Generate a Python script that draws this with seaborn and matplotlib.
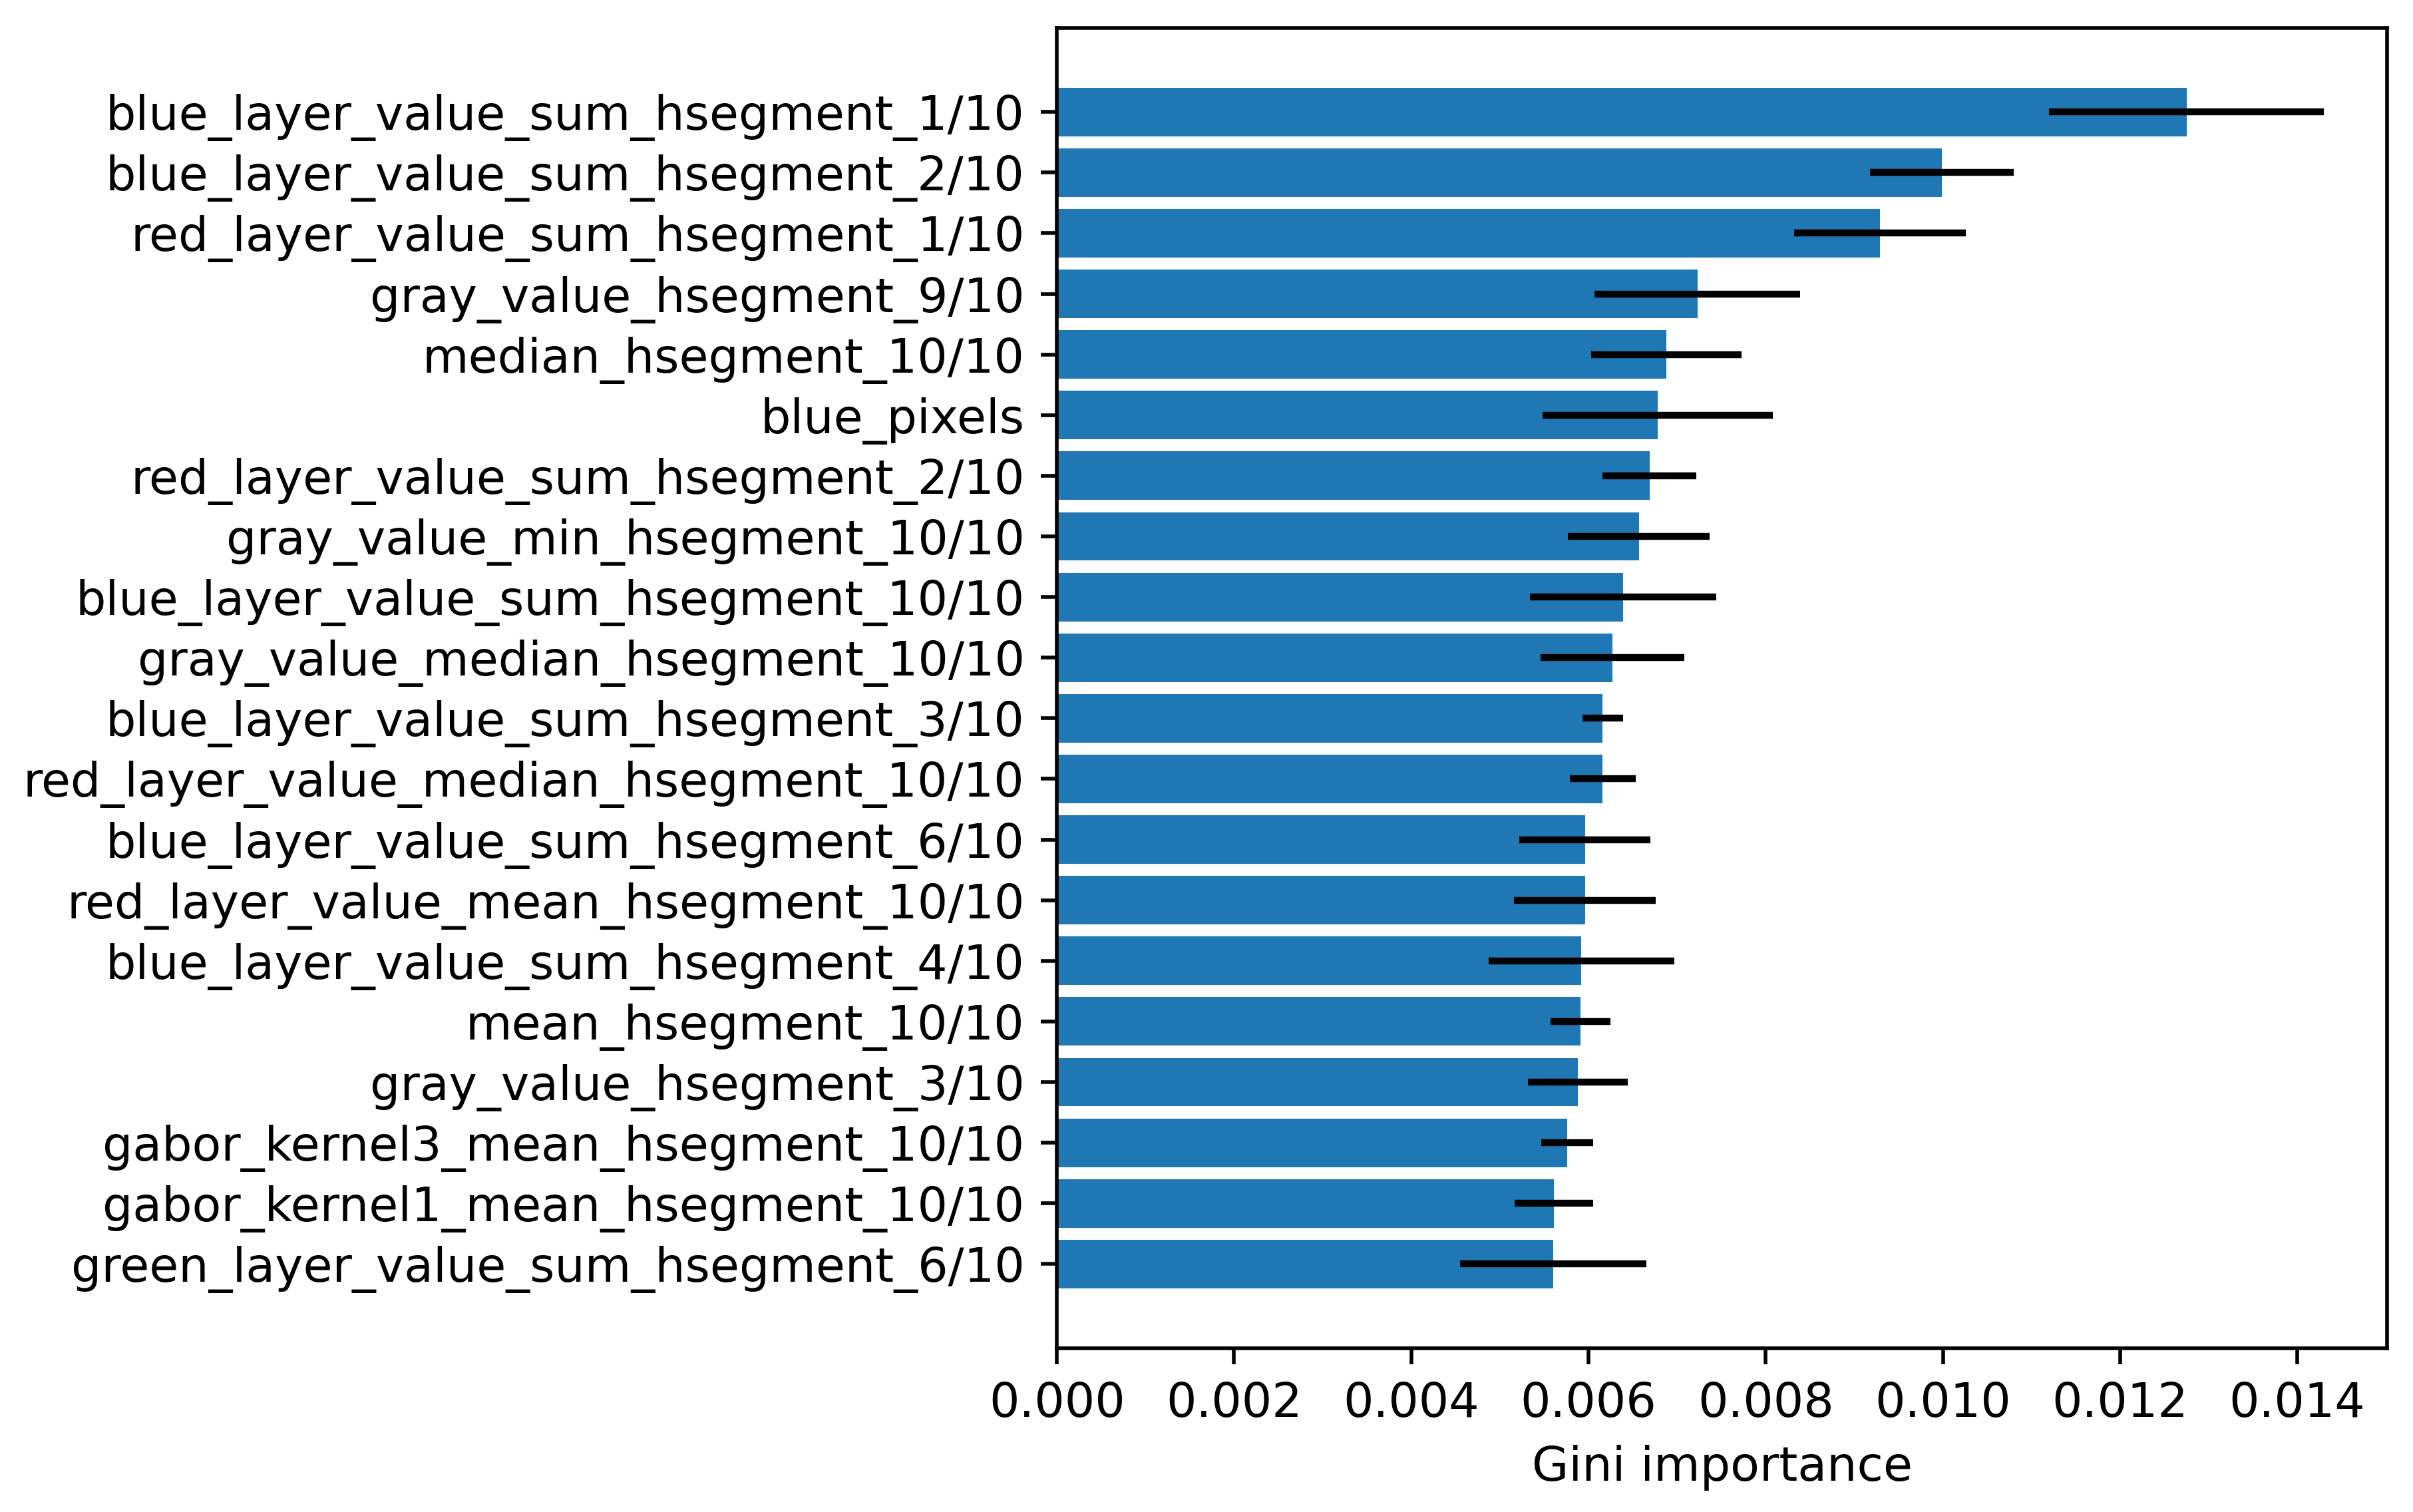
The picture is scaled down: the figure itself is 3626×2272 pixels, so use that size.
import matplotlib
matplotlib.use("Agg")
import matplotlib.pyplot as plt
import seaborn as sns
import numpy as np
import pandas as pd

features = [
    "blue_layer_value_sum_hsegment_1/10",
    "blue_layer_value_sum_hsegment_2/10",
    "red_layer_value_sum_hsegment_1/10",
    "gray_value_hsegment_9/10",
    "median_hsegment_10/10",
    "blue_pixels",
    "red_layer_value_sum_hsegment_2/10",
    "gray_value_min_hsegment_10/10",
    "blue_layer_value_sum_hsegment_10/10",
    "gray_value_median_hsegment_10/10",
    "blue_layer_value_sum_hsegment_3/10",
    "red_layer_value_median_hsegment_10/10",
    "blue_layer_value_sum_hsegment_6/10",
    "red_layer_value_mean_hsegment_10/10",
    "blue_layer_value_sum_hsegment_4/10",
    "mean_hsegment_10/10",
    "gray_value_hsegment_3/10",
    "gabor_kernel3_mean_hsegment_10/10",
    "gabor_kernel1_mean_hsegment_10/10",
    "green_layer_value_sum_hsegment_6/10",
]
importance = [0.01275, 0.00999, 0.00929, 0.00723, 0.00688, 0.00678, 0.00669, 0.00657,
              0.00639, 0.00627, 0.00616, 0.00616, 0.00596, 0.00596, 0.00592, 0.00591,
              0.00588, 0.00576, 0.00561, 0.00560]
std_err = [0.00155, 0.00081, 0.00097, 0.00116, 0.00085, 0.00130, 0.00053, 0.00080,
           0.00105, 0.00081, 0.00023, 0.00037, 0.00074, 0.00080, 0.00105, 0.00034,
           0.00056, 0.00029, 0.00044, 0.00105]

df = pd.DataFrame({"feature": features, "importance": importance, "std": std_err})

FS = 10.3
fig = plt.figure(figsize=(3626 / 500, 2272 / 500), dpi=500)
ax = fig.add_axes([0.438, 0.1083, 0.9893 - 0.438, 0.9817 - 0.1083])

sns.barplot(data=df, x="importance", y="feature", orient="h", color="#1f77b4",
            saturation=1, width=0.8, errorbar=None, ax=ax)
ax.errorbar(df["importance"], np.arange(len(df)), xerr=df["std"], fmt="none",
            ecolor="black", elinewidth=1.5, capsize=0)

n = len(df)
ax.set_ylim(n - 1 + 1.39, -1.39)
xmax = float(np.max(np.array(importance) + np.array(std_err)))
ax.set_xlim(0, xmax * 1.05)
ticks = np.arange(0, 0.0141, 0.002)
ax.set_xticks(ticks)
ax.set_xticklabels([f"{t:.3f}" for t in ticks])
ax.set_xlabel("Gini importance", fontsize=FS)
ax.set_ylabel("")
ax.tick_params(labelsize=FS)
for s in ax.spines.values():
    s.set_visible(True)
    s.set_color("black")
    s.set_linewidth(0.8)

fig.savefig("out.png", dpi=500)
